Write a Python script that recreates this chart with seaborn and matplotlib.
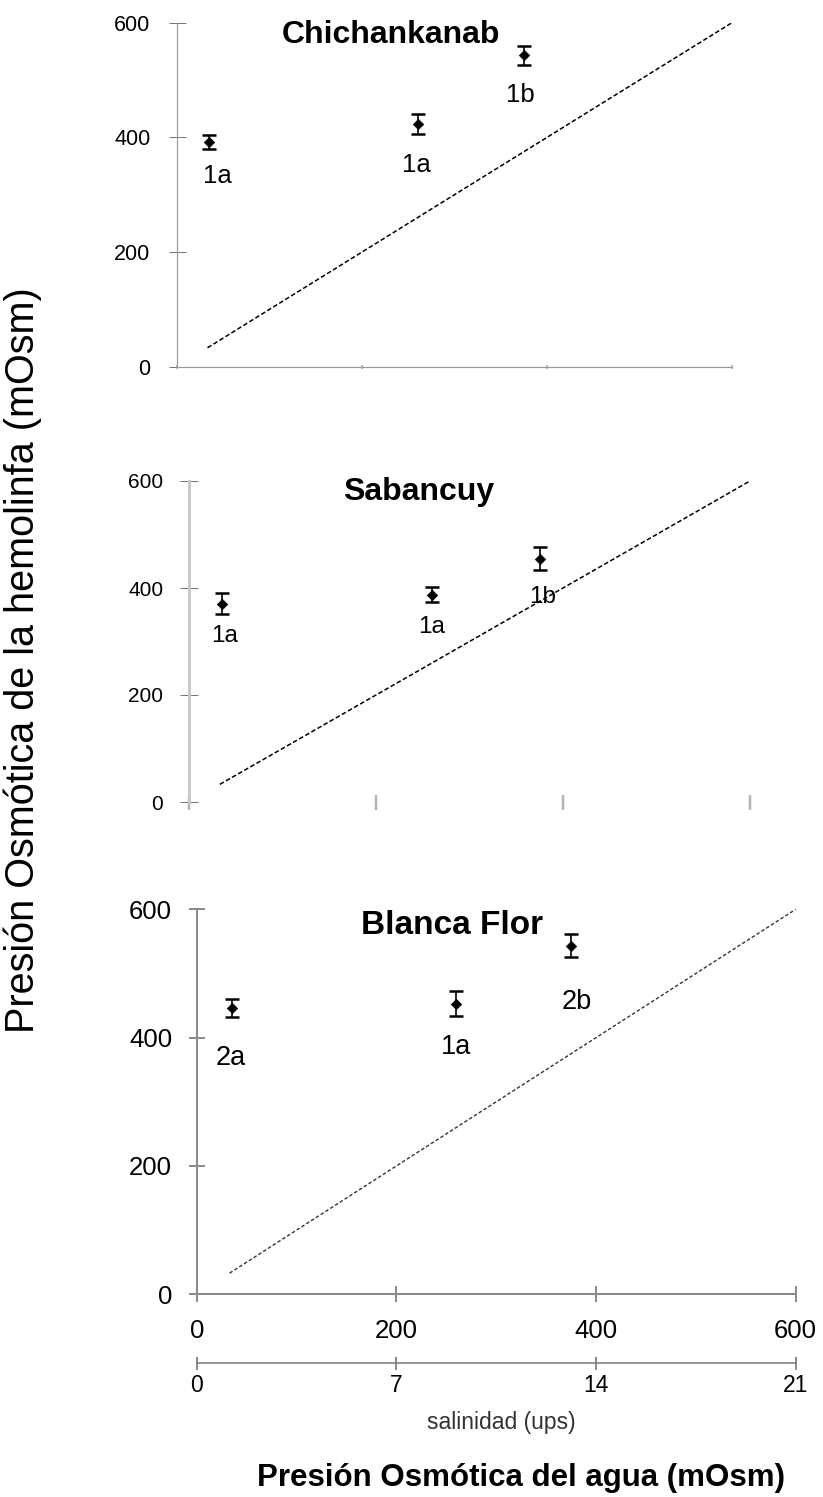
import matplotlib
matplotlib.use("Agg")
import matplotlib.pyplot as plt
import seaborn as sns

# Osmotic pressure of the water in each treatment (mOsm)
water_osm = [35, 260, 375]

# Hemolymph osmotic pressure (mOsm): mean, error and group letters per locality
chich_mean = [392, 423, 543]
chich_err = [12, 17, 17]
chich_groups = ["1a", "1a", "1b"]

saban_mean = [371, 387, 455]
saban_err = [20, 14, 21]
saban_groups = ["1a", "1a", "1b"]

blanca_mean = [446, 453, 543]
blanca_err = [14, 20, 18]
blanca_groups = ["2a", "1a", "2b"]

localities = ["Chichankanab", "Sabancuy", "Blanca Flor"]

# Isosmotic line (hemolymph = medium)
iso_range = [33, 600]

osm_ticks = [0, 200, 400, 600]
ups_ticks = [0, 7, 14, 21]

sns.set_style("white")
plt.rcParams["font.family"] = ["Liberation Sans", "DejaVu Sans"]
plt.rcParams.update({
    "text.color": "black",
    "xtick.labelcolor": "black",
    "ytick.labelcolor": "black",
    "xtick.bottom": True,
    "ytick.left": True,
})

W, H = 823, 1497
PT = 72 / 100  # points per pixel at dpi 100
fig = plt.figure(figsize=(W / 100, H / 100), dpi=100)


def px_axes(x0, x1, y_top, y_bot):
    return fig.add_axes([x0 / W, 1 - y_bot / H, (x1 - x0) / W, (y_bot - y_top) / H])


def draw_panel(ax, mean, err, groups, title, st):
    sns.lineplot(x=iso_range, y=iso_range, ax=ax, color=st["line_color"],
                 linewidth=st["line_w"], linestyle=(0, st["dash"]), zorder=2)
    ax.errorbar(water_osm, mean, yerr=err, fmt="none", ecolor="black",
                elinewidth=st["elw"], capsize=st["cap"], capthick=st["capw"], zorder=3)
    sns.scatterplot(x=water_osm, y=mean, ax=ax, color="black", marker="D",
                    s=st["ms"], edgecolor="black", linewidth=0.5, zorder=4)
    for xv, yv, g, off in zip(water_osm, mean, groups, st["label_off"]):
        ax.annotate(g, (xv, yv), xytext=off, textcoords="offset pixels",
                    ha="center", va="center", fontsize=st["label_fs"], color="black")
    ax.text(st["title_pos"][0], st["title_pos"][1], title, transform=ax.transAxes,
            ha="center", va="center", fontsize=st["title_fs"], fontweight="bold")
    ax.set_xlim(0, 600)
    ax.set_ylim(0, 600)
    ax.set_xticks(osm_ticks)
    ax.set_yticks(osm_ticks)
    ax.set_xlabel("")
    ax.set_ylabel("")
    sns.despine(ax=ax)


# --- Chichankanab ---
ax1 = px_axes(177, 732, 22.7, 366.7)
draw_panel(ax1, chich_mean, chich_err, chich_groups, localities[0], dict(
    line_color="black", line_w=1.1, dash=(3, 1.6), elw=1.2, cap=5, capw=1.8, ms=28,
    label_off=[(8, -34), (-1, -41), (-3, -40)], label_fs=18.5,
    title_pos=(0.386, 0.964), title_fs=23))
ax1.set_xticklabels([])
ax1.spines["left"].set(color="#9a9a9a", linewidth=1.2 * PT)
ax1.spines["bottom"].set(color="#9a9a9a", linewidth=1.2 * PT)
ax1.tick_params(axis="y", left=True, direction="inout", length=17 * PT, width=1 * PT,
                color="#777777", labelsize=15.5, pad=13)
ax1.tick_params(axis="x", bottom=True, direction="inout", length=5 * PT, width=2 * PT,
                color="#bbbbbb")

# --- Sabancuy ---
ax2 = px_axes(189, 750, 481, 802)
draw_panel(ax2, saban_mean, saban_err, saban_groups, localities[1], dict(
    line_color="black", line_w=1.1, dash=(3, 1.6), elw=1.2, cap=5, capw=1.8, ms=28,
    label_off=[(3, -32), (-1, -32), (3, -38)], label_fs=17.5,
    title_pos=(0.41, 0.965), title_fs=23))
ax2.set_xticklabels([])
ax2.spines["bottom"].set_visible(False)
ax2.spines["left"].set(color="#cacaca", linewidth=3 * PT)
ax2.tick_params(axis="y", left=True, direction="inout", length=18 * PT, width=1 * PT,
                color="#777777", labelsize=15, pad=12)
ax2.tick_params(axis="x", bottom=True, direction="inout", length=15 * PT, width=2.5 * PT,
                color="#b5b5b5")

# --- Blanca Flor ---
ax3 = px_axes(196.7, 795.7, 909.3, 1294.3)
draw_panel(ax3, blanca_mean, blanca_err, blanca_groups, localities[2], dict(
    line_color="#333333", line_w=1.0, dash=(2.5, 1.6), elw=1.2, cap=5, capw=1.8, ms=28,
    label_off=[(-1, -50), (0, -43), (6, -56)], label_fs=19.5,
    title_pos=(0.427, 0.957), title_fs=24))
for side in ("left", "bottom"):
    ax3.spines[side].set(color="#8a8a8a", linewidth=2 * PT)
ax3.tick_params(axis="both", left=True, bottom=True, direction="inout", length=16 * PT,
                width=1.5 * PT, color="#666666", labelsize=18.5)
ax3.tick_params(axis="x", pad=12)
ax3.tick_params(axis="y", pad=12)

# salinity scale under the osmotic pressure axis
sec = ax3.secondary_xaxis(-69 / 385, functions=(lambda x: x * 21 / 600, lambda u: u * 600 / 21))
sec.set_xticks(ups_ticks)
sec.spines["bottom"].set(color="#777777", linewidth=1.5 * PT)
sec.tick_params(axis="x", bottom=True, direction="inout", length=13 * PT, width=1.5 * PT,
                color="#666666", labelsize=16.5, pad=3)

fig.text(501 / W, 1 - 1423 / H, "salinidad (ups)", ha="center", va="center",
         fontsize=16.5, color="#333333")
fig.text(521 / W, 1 - 1478 / H, "Presión Osmótica del agua (mOsm)", ha="center",
         va="center", fontsize=22.5, fontweight="bold")
fig.text(23 / W, 1 - 660 / H, "Presión Osmótica de la hemolinfa (mOsm)", ha="center",
         va="center", rotation=90, fontsize=28.5)

fig.savefig("out.png", dpi=100)
